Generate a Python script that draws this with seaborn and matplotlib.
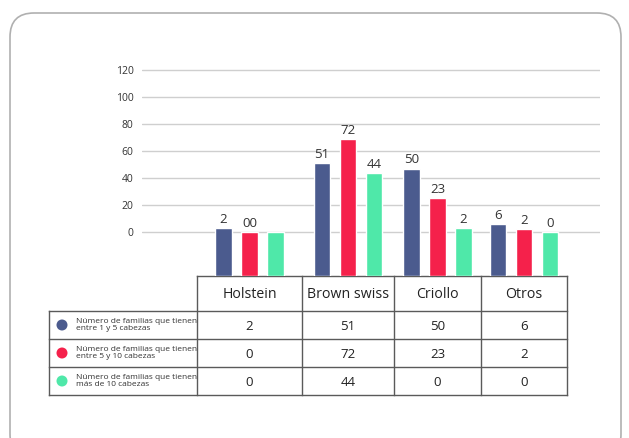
import pandas as pd
import seaborn as sns
import matplotlib.pyplot as plt
from matplotlib.patches import FancyBboxPatch, Circle

# categories and series
razas = ['Holstein', 'Brown swiss', 'Criollo', 'Otros']
series = [
    'Número de familias que tienen\nentre 1 y 5 cabezas',
    'Número de familias que tienen\nentre 5 y 10 cabezas',
    'Número de familias que tienen\nmás de 10 cabezas',
]
# bar heights as drawn in the chart
barras_1a5 = [3, 51, 47, 6]
barras_5a10 = [0, 69, 25, 2]
barras_mas10 = [0, 44, 3, 0]
# labels printed above the bars
etiq_1a5 = ['2', '51', '50', '6']
etiq_5a10 = ['00', '72', '23', '2']
etiq_mas10 = ['', '44', '2', '0']
# values in the table
tabla_1a5 = [2, 51, 50, 6]
tabla_5a10 = [0, 72, 23, 2]
tabla_mas10 = [0, 44, 0, 0]
y_ticks = [0, 20, 40, 60, 80, 100, 120]

colores = ['#4b5b8e', '#f5214b', '#4fe8a9']

# layout (figure pixels)
W, H = 629, 438
col_edges = [197, 302, 394, 481, 567]
col_centers = [(a + b) / 2 for a, b in zip(col_edges[:-1], col_edges[1:])]
label_left = 49
row_edges = [276, 311, 339, 367, 395]
ax_left, ax_right, ax_top = 142, 600, 60
YMIN, YMAX = -32.6, 127.4

sns.set_theme(style='white')
plt.rcParams['font.family'] = ['Open Sans', 'DejaVu Sans']

fig = plt.figure(figsize=(W / 100, H / 100), dpi=100)

# background layer in pixel coordinates: frame + table
bg = fig.add_axes([0, 0, 1, 1], zorder=0)
bg.set_xlim(0, W)
bg.set_ylim(H, 0)
bg.axis('off')
bg.add_patch(FancyBboxPatch((10, 13), 611, 445,
                            boxstyle='round,pad=0,rounding_size=24',
                            fc='white', ec='#b0b0b0', lw=1.2))

line_kw = dict(color='#5a5a5a', lw=1.0, solid_capstyle='projecting')
# header row (only over data columns)
bg.plot([col_edges[0], col_edges[-1]], [row_edges[0]] * 2, **line_kw)
for y in row_edges[1:]:
    bg.plot([label_left, col_edges[-1]], [y, y], **line_kw)
for x in col_edges:
    bg.plot([x, x], [row_edges[0], row_edges[-1]], **line_kw)
bg.plot([label_left, label_left], [row_edges[1], row_edges[-1]], **line_kw)

for cx, name in zip(col_centers, razas):
    bg.text(cx, (row_edges[0] + row_edges[1]) / 2 + 1, name, ha='center', va='center',
            fontsize=10.2, color='#222222')

filas = [tabla_1a5, tabla_5a10, tabla_mas10]
for i, (fila, serie, c) in enumerate(zip(filas, series, colores)):
    yc = (row_edges[i + 1] + row_edges[i + 2]) / 2
    bg.add_patch(Circle((62, yc), 5.5, color=c, lw=0))
    bg.text(76, yc, serie, ha='left', va='center', fontsize=6.0,
            color='#333333', linespacing=0.9)
    for cx, v in zip(col_centers, fila):
        bg.text(cx, yc + 1, str(v), ha='center', va='center',
                fontsize=9.5, color='#222222')

# bar chart
ax = fig.add_axes([ax_left / W, 1 - row_edges[0] / H,
                   (ax_right - ax_left) / W, (row_edges[0] - ax_top) / H], zorder=1)
ax.set_facecolor('none')

df = pd.DataFrame({
    'pos': col_centers * 3,
    'valor': barras_1a5 + barras_5a10 + barras_mas10,
    'serie': [s for s in series for _ in razas],
})
sns.barplot(data=df, x='pos', y='valor', hue='serie', hue_order=series,
            palette=colores, native_scale=True, width=0.9, gap=0.35,
            saturation=1, legend=False, ax=ax, zorder=3)

# bars start from the bottom of the plot area (as in the original)
for p in ax.patches:
    h = p.get_height()
    p.set_y(YMIN)
    p.set_height(h - YMIN)

for cont, etiq in zip(ax.containers, [etiq_1a5, etiq_5a10, etiq_mas10]):
    ax.bar_label(cont, labels=etiq, padding=1.5, fontsize=9.5, color='#333333')

ax.set_xlim(ax_left, ax_right)
ax.set_ylim(YMIN, YMAX)
ax.set_yticks(y_ticks)
ax.set_xticks([])
ax.set_xlabel('')
ax.set_ylabel('')
ax.tick_params(axis='y', length=0, pad=6, labelsize=7.5, labelcolor='#333333')
ax.yaxis.grid(True, color='#cfcfcf', lw=1.0, zorder=0)
ax.set_axisbelow(True)
sns.despine(ax=ax, left=True, bottom=True)

fig.savefig('out.png', dpi=100)
